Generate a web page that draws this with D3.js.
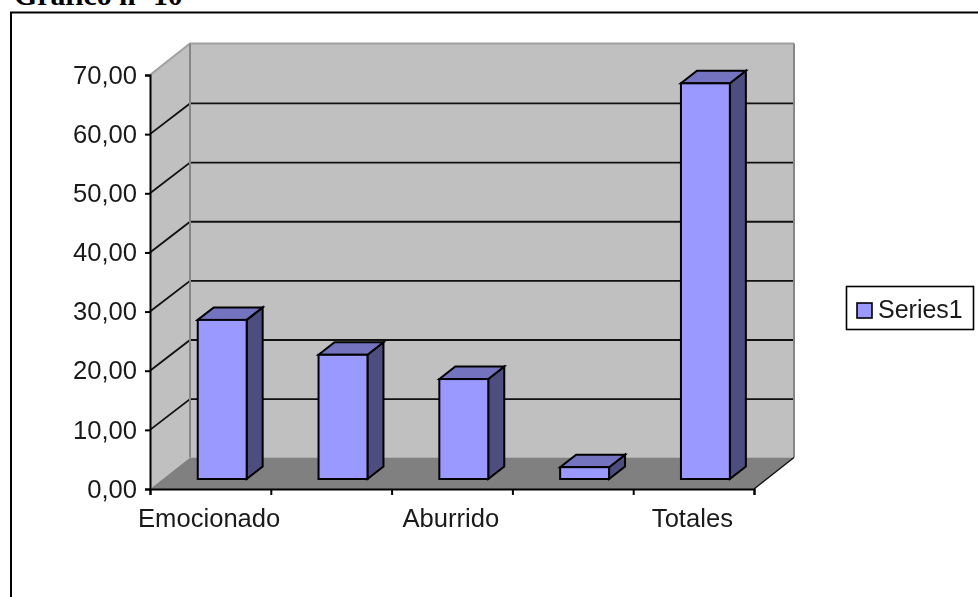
<!DOCTYPE html>
<html><head><meta charset="utf-8">
<script src="https://cdn.jsdelivr.net/npm/d3@7"></script>
<style>html,body{margin:0;padding:0;background:#fff;overflow:hidden}svg{display:block}</style>
</head><body><div id="c"></div>
<script>
const titleText = "Gráfico nº 10";
const categories = ["Emocionado","","Aburrido","","Totales"];
const values = [26.9,21.0,16.9,2.0,66.9];
const yTicks = [0,10,20,30,40,50,60,70];
const seriesName = "Series1";
const colors = {face:"#9999ff",top:"#7373c0",side:"#4d4d80",wall:"#c0c0c0",floor:"#808080",edge:"#868686",topEdge:"#a0a0a0",text:"#1a1a1a"};

const W=978,H=597;
const svg=d3.select("#c").append("svg").attr("width",W).attr("height",H).attr("viewBox",[0,0,W,H]);
const font="'Liberation Sans',Arial,sans-serif";

svg.append("text").attr("x",14).attr("y",5).attr("font-family","'Liberation Serif',serif")
  .attr("font-weight","bold").attr("font-size",29.8).attr("fill","#000").text(titleText);
svg.append("path").attr("d","M11,597V12.5H978").attr("fill","none").attr("stroke","#000").attr("stroke-width",2);

const g=svg.append("g").style("filter","blur(0.4px)");
const y=d3.scaleLinear().domain([0,70]).range([489,75]);
const x=d3.scaleBand().domain(d3.range(categories.length)).range([150,754]);
const DX=40,DY=-31.5;            // depth of the chart box
const bdx=16,bdy=-12.5;          // depth of a bar
const fx=11.8,fy=-10;            // offset of a bar's front from the axis plane
const bw=x.bandwidth()*0.405;
const x0=x.range()[0],x1=x.range()[1];
const y0=y(0),yT=y(70);
const line=d3.line();

// walls
g.append("path").attr("d",line([[x0,y0],[x0+DX,y0+DY],[x0+DX,yT+DY],[x0,yT]])+"Z").attr("fill",colors.wall);
g.append("path").attr("d",line([[x0+DX,y0+DY],[x1+DX,y0+DY],[x1+DX,yT+DY],[x0+DX,yT+DY]])+"Z").attr("fill",colors.wall);
g.append("path").attr("d",line([[x0,y0],[x0+DX,y0+DY],[x1+DX,y0+DY],[x1,y0]])+"Z").attr("fill",colors.floor);

// gridlines
g.selectAll("path.grid").data(yTicks.slice(1,-1)).join("path").attr("class","grid")
  .attr("d",v=>line([[x0,y(v)],[x0+DX,y(v)+DY+0.8],[x1+DX,y(v)+DY+0.8]]))
  .attr("fill","none").attr("stroke","#111").attr("stroke-width",1.8);

// box edges
g.append("path").attr("d",line([[x0,yT],[x0+DX,yT+DY],[x1+DX,yT+DY]]))
  .attr("fill","none").attr("stroke",colors.topEdge).attr("stroke-width",2);
g.append("path").attr("d",line([[x1+DX,yT+DY],[x1+DX,y0+DY]]))
  .attr("fill","none").attr("stroke",colors.edge).attr("stroke-width",2);
g.append("path").attr("d",line([[x0+DX,yT+DY],[x0+DX,y0+DY]]))
  .attr("fill","none").attr("stroke",colors.edge).attr("stroke-width",2);
g.append("path").attr("d",line([[x1,y0],[x1+DX,y0+DY]]))
  .attr("fill","none").attr("stroke","#111").attr("stroke-width",1.5);

// bars
const bars=g.selectAll("g.bar").data(values).join("g").attr("class","bar")
  .attr("stroke","#000").attr("stroke-width",2).attr("stroke-linejoin","miter");
const L=(d,i)=>x(i)+x.bandwidth()/2+fx-bw/2, R=(d,i)=>L(d,i)+bw, T=d=>y(d)+fy, B=y0+fy;
bars.append("path").attr("fill",colors.side)
  .attr("d",(d,i)=>line([[R(d,i),T(d)],[R(d,i)+bdx,T(d)+bdy],[R(d,i)+bdx,B+bdy],[R(d,i),B]])+"Z");
bars.append("path").attr("fill",colors.top)
  .attr("d",(d,i)=>line([[L(d,i),T(d)],[L(d,i)+bdx,T(d)+bdy],[R(d,i)+bdx,T(d)+bdy],[R(d,i),T(d)]])+"Z");
bars.append("rect").attr("fill",colors.face)
  .attr("x",L).attr("y",T).attr("width",bw).attr("height",d=>B-T(d));

// axes
const yAxis=d3.axisLeft(y).tickValues(yTicks).tickSize(5).tickPadding(8)
  .tickFormat(v=>d3.format(".2f")(v).replace(".",","));
const ya=g.append("g").attr("transform",`translate(${x0},0)`).call(yAxis);
const xTickPos=d3.range(categories.length+1).map(i=>i<categories.length?x(i):x1);
const xa=g.append("g").attr("transform",`translate(0,${y0})`).call(
  d3.axisBottom(d3.scaleLinear().domain([x0,x1]).range([x0,x1])).tickValues(xTickPos).tickSize(6).tickFormat(""));
[ya,xa].forEach(a=>{a.selectAll("path,line").attr("stroke","#000").attr("stroke-width",2);
  a.select(".domain").attr("stroke-width",2);});
ya.selectAll("text").attr("font-family",font).attr("font-size",25.6).attr("fill",colors.text);

g.selectAll("text.cat").data(categories).join("text").attr("class","cat")
  .attr("x",(d,i)=>x(i)+x.bandwidth()/2-1.2).attr("y",527).attr("text-anchor","middle")
  .attr("font-family",font).attr("font-size",25.6).attr("fill",colors.text).text(d=>d);

// legend
const lg=g.append("g");
lg.append("rect").attr("x",846.5).attr("y",286.5).attr("width",127).attr("height",43)
  .attr("fill","#fff").attr("stroke","#000").attr("stroke-width",1.6);
lg.append("rect").attr("x",857).attr("y",303).attr("width",15).attr("height",15)
  .attr("fill",colors.face).attr("stroke","#000").attr("stroke-width",1.6);
lg.append("text").attr("x",878).attr("y",318).attr("font-family",font).attr("font-size",25)
  .attr("fill",colors.text).text(seriesName);
</script></body></html>
